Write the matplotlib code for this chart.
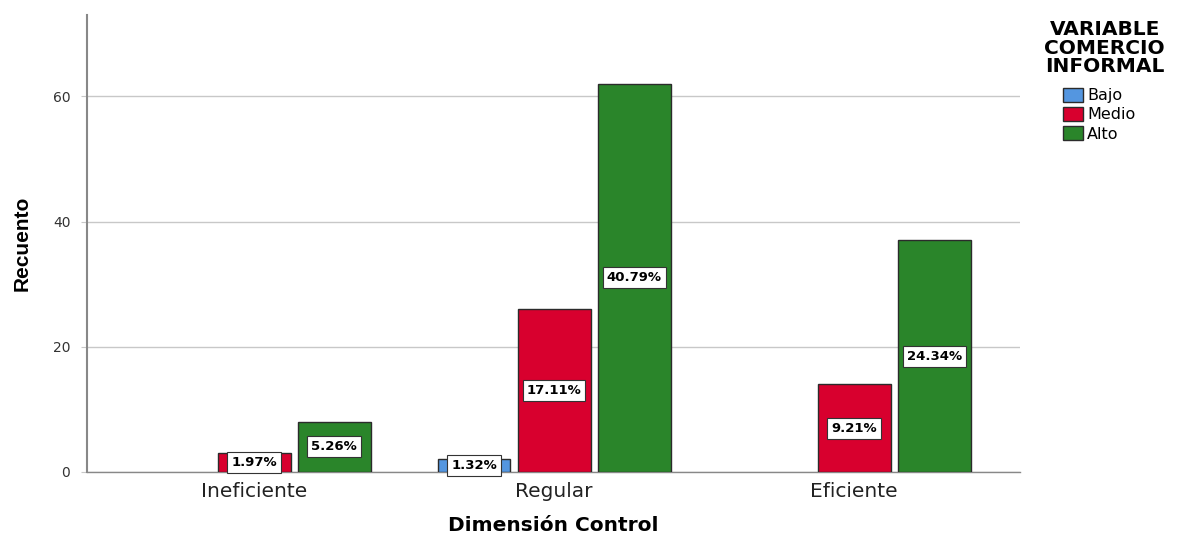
import numpy as np
import matplotlib.pyplot as plt
from matplotlib.patches import Patch

plt.rcParams['font.family'] = ['DejaVu Sans']

# data
categories = ['Ineficiente', 'Regular', 'Eficiente']
series = ['Bajo', 'Medio', 'Alto']
bajo = [0, 2, 0]
medio = [3, 26, 14]
alto = [8, 62, 37]
total = 152
colors = ['#5496e0', '#d8002e', '#2a852a']

fig = plt.figure(figsize=(11.77, 5.35), dpi=100)
ax = fig.add_axes([0.0739, 0.1178, 0.7927, 0.8542])

x = np.arange(len(categories))
step = 0.267
width = 0.243
for i, (vals, col) in enumerate(zip([bajo, medio, alto], colors)):
    pos = x + (i - 1) * step
    for p, v in zip(pos, vals):
        if v == 0:
            continue
        ax.bar(p, v, width=width, color=col, edgecolor='#2b2b2b', linewidth=1.0, zorder=3)
        ax.text(p, v / 2, f'{v / total * 100:.2f}%', ha='center', va='center',
                fontsize=9.5, fontweight='bold', zorder=4,
                bbox=dict(boxstyle='square,pad=0.3', fc='white', ec='#333333', lw=0.8))

ax.set_xlim(-0.557, 2.553)
ax.set_ylim(0, 73)
ax.set_yticks([0, 20, 40, 60])
ax.yaxis.grid(True, color='#c8c8c8', linewidth=1.0, zorder=0)
ax.set_axisbelow(True)
ax.set_xticks(x)
ax.set_xticklabels(categories, fontsize=14.5, color='#222222')
ax.tick_params(axis='x', length=0, pad=7)
ax.tick_params(axis='y', length=4, color='#c8c8c8', labelsize=10, colors='#333333', pad=8)
for s in ['top', 'right']:
    ax.spines[s].set_visible(False)
ax.spines['left'].set_color('#888888')
ax.spines['left'].set_linewidth(1.5)
ax.spines['bottom'].set_color('#888888')
ax.spines['bottom'].set_linewidth(1.0)

ax.set_xlabel('Dimensión Control', fontsize=14.5, fontweight='bold', labelpad=11)
ax.set_ylabel('Recuento', fontsize=15, fontweight='bold', labelpad=15,
              family=['Liberation Sans'])

# legend title drawn apart so the gap to the entries matches
fig.text(0.9385, 0.962, 'VARIABLE\nCOMERCIO\nINFORMAL', ha='center', va='top',
         fontsize=14.5, fontweight='bold', linespacing=0.95, multialignment='center')
handles = [Patch(facecolor=c, edgecolor='#2b2b2b', label=s) for s, c in zip(series, colors)]
leg = fig.legend(handles=handles, loc='upper left',
                 bbox_to_anchor=(0.896, 0.851), frameon=False, fontsize=11.5,
                 handlelength=1.3, handleheight=1.0, handletextpad=0.25, labelspacing=0.22,
                 borderpad=0.0)

fig.savefig('out.png', dpi=100)
